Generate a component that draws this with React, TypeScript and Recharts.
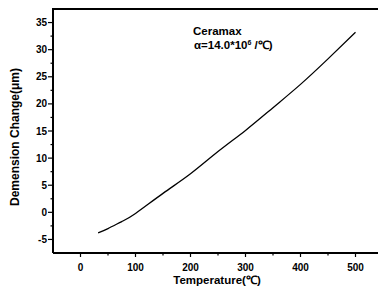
import React from "react"
import { LineChart, Line, XAxis, YAxis } from "recharts"

const TEMPERATURE = [32, 50, 75, 100, 150, 200, 250, 300, 350, 400, 450, 500]
const DIMENSION_CHANGE = [-3.8, -3.0, -1.7, -0.2, 3.5, 7.1, 11.2, 15.1, 19.3, 23.6, 28.3, 33.2]

const X_TICKS = [0, 50, 100, 150, 200, 250, 300, 350, 400, 450, 500]
const Y_TICKS = [-5, -2.5, 0, 2.5, 5, 7.5, 10, 12.5, 15, 17.5, 20, 22.5, 25, 27.5, 30, 32.5, 35]

const FONT = "'Liberation Sans', Arial, sans-serif"

const data = TEMPERATURE.map((t, i) => ({ t, d: DIMENSION_CHANGE[i] }))

function XTick({ x, y, payload }: any) {
  const major = payload.value % 100 === 0
  return (
    <g>
      <line x1={x} x2={x} y1={y} y2={y + (major ? 4 : 2.5)} stroke="#000" strokeWidth={1.2} />
      {major && (
        <text x={x} y={y + 18} textAnchor="middle" fontSize={10} fontWeight="bold" fontFamily={FONT} fill="#000">
          {payload.value}
        </text>
      )}
    </g>
  )
}

function YTick({ x, y, payload }: any) {
  const major = payload.value % 5 === 0
  return (
    <g>
      <line x1={x} x2={x - (major ? 5 : 2.5)} y1={y} y2={y} stroke="#000" strokeWidth={1.2} />
      {major && (
        <text x={x - 6} y={y + 3.5} textAnchor="end" fontSize={10} fontWeight="bold" fontFamily={FONT} fill="#000">
          {payload.value}
        </text>
      )}
    </g>
  )
}

export default function App() {
  return (
    <div style={{ position: "absolute", left: 0, top: 0, width: 378, height: 293, overflow: "hidden", background: "#fff" }}>
      <LineChart width={393} height={293} data={data} margin={{ top: 9, right: 10, bottom: 0, left: 0 }}>
        <XAxis
          dataKey="t"
          type="number"
          domain={[-50, 550]}
          ticks={X_TICKS}
          interval={0}
          tick={<XTick />}
          tickLine={false}
          tickSize={0}
          tickMargin={0}
          height={40}
          axisLine={{ stroke: "#000", strokeWidth: 2 }}
        />
        <YAxis
          type="number"
          domain={[-7.5, 37.5]}
          ticks={Y_TICKS}
          interval={0}
          tick={<YTick />}
          tickLine={false}
          tickSize={0}
          tickMargin={0}
          width={53}
          axisLine={{ stroke: "#000", strokeWidth: 2 }}
        />
        <Line
          dataKey="d"
          type="natural"
          stroke="#000"
          strokeWidth={1.3}
          dot={false}
          isAnimationActive={false}
        />
        <text x={193} y={35} fontSize={11.5} fontWeight="bold" fontFamily={FONT} fill="#000">
          Ceramax
        </text>
        <text x={194} y={49} fontSize={11.5} fontWeight="bold" fontFamily={FONT} fill="#000">
          α=14.0*10<tspan dy={-4} fontSize={7}>6</tspan><tspan dy={4}> /℃)</tspan>
        </text>
        <text x={217} y={284} textAnchor="middle" fontSize={11.5} fontWeight="bold" fontFamily={FONT} fill="#000">
          Temperature(℃)
        </text>
        <text
          x={0}
          y={0}
          transform="translate(19, 137) rotate(-90)"
          textAnchor="middle"
          fontSize={12}
          fontWeight="bold"
          fontFamily={FONT}
          fill="#000"
        >
          Demension Change(μm)
        </text>
      </LineChart>
      {/* top edge of the plot frame */}
      <div style={{ position: "absolute", left: 52, top: 8, width: 330, height: 2, background: "#000", zIndex: 10 }} />
    </div>
  )
}
